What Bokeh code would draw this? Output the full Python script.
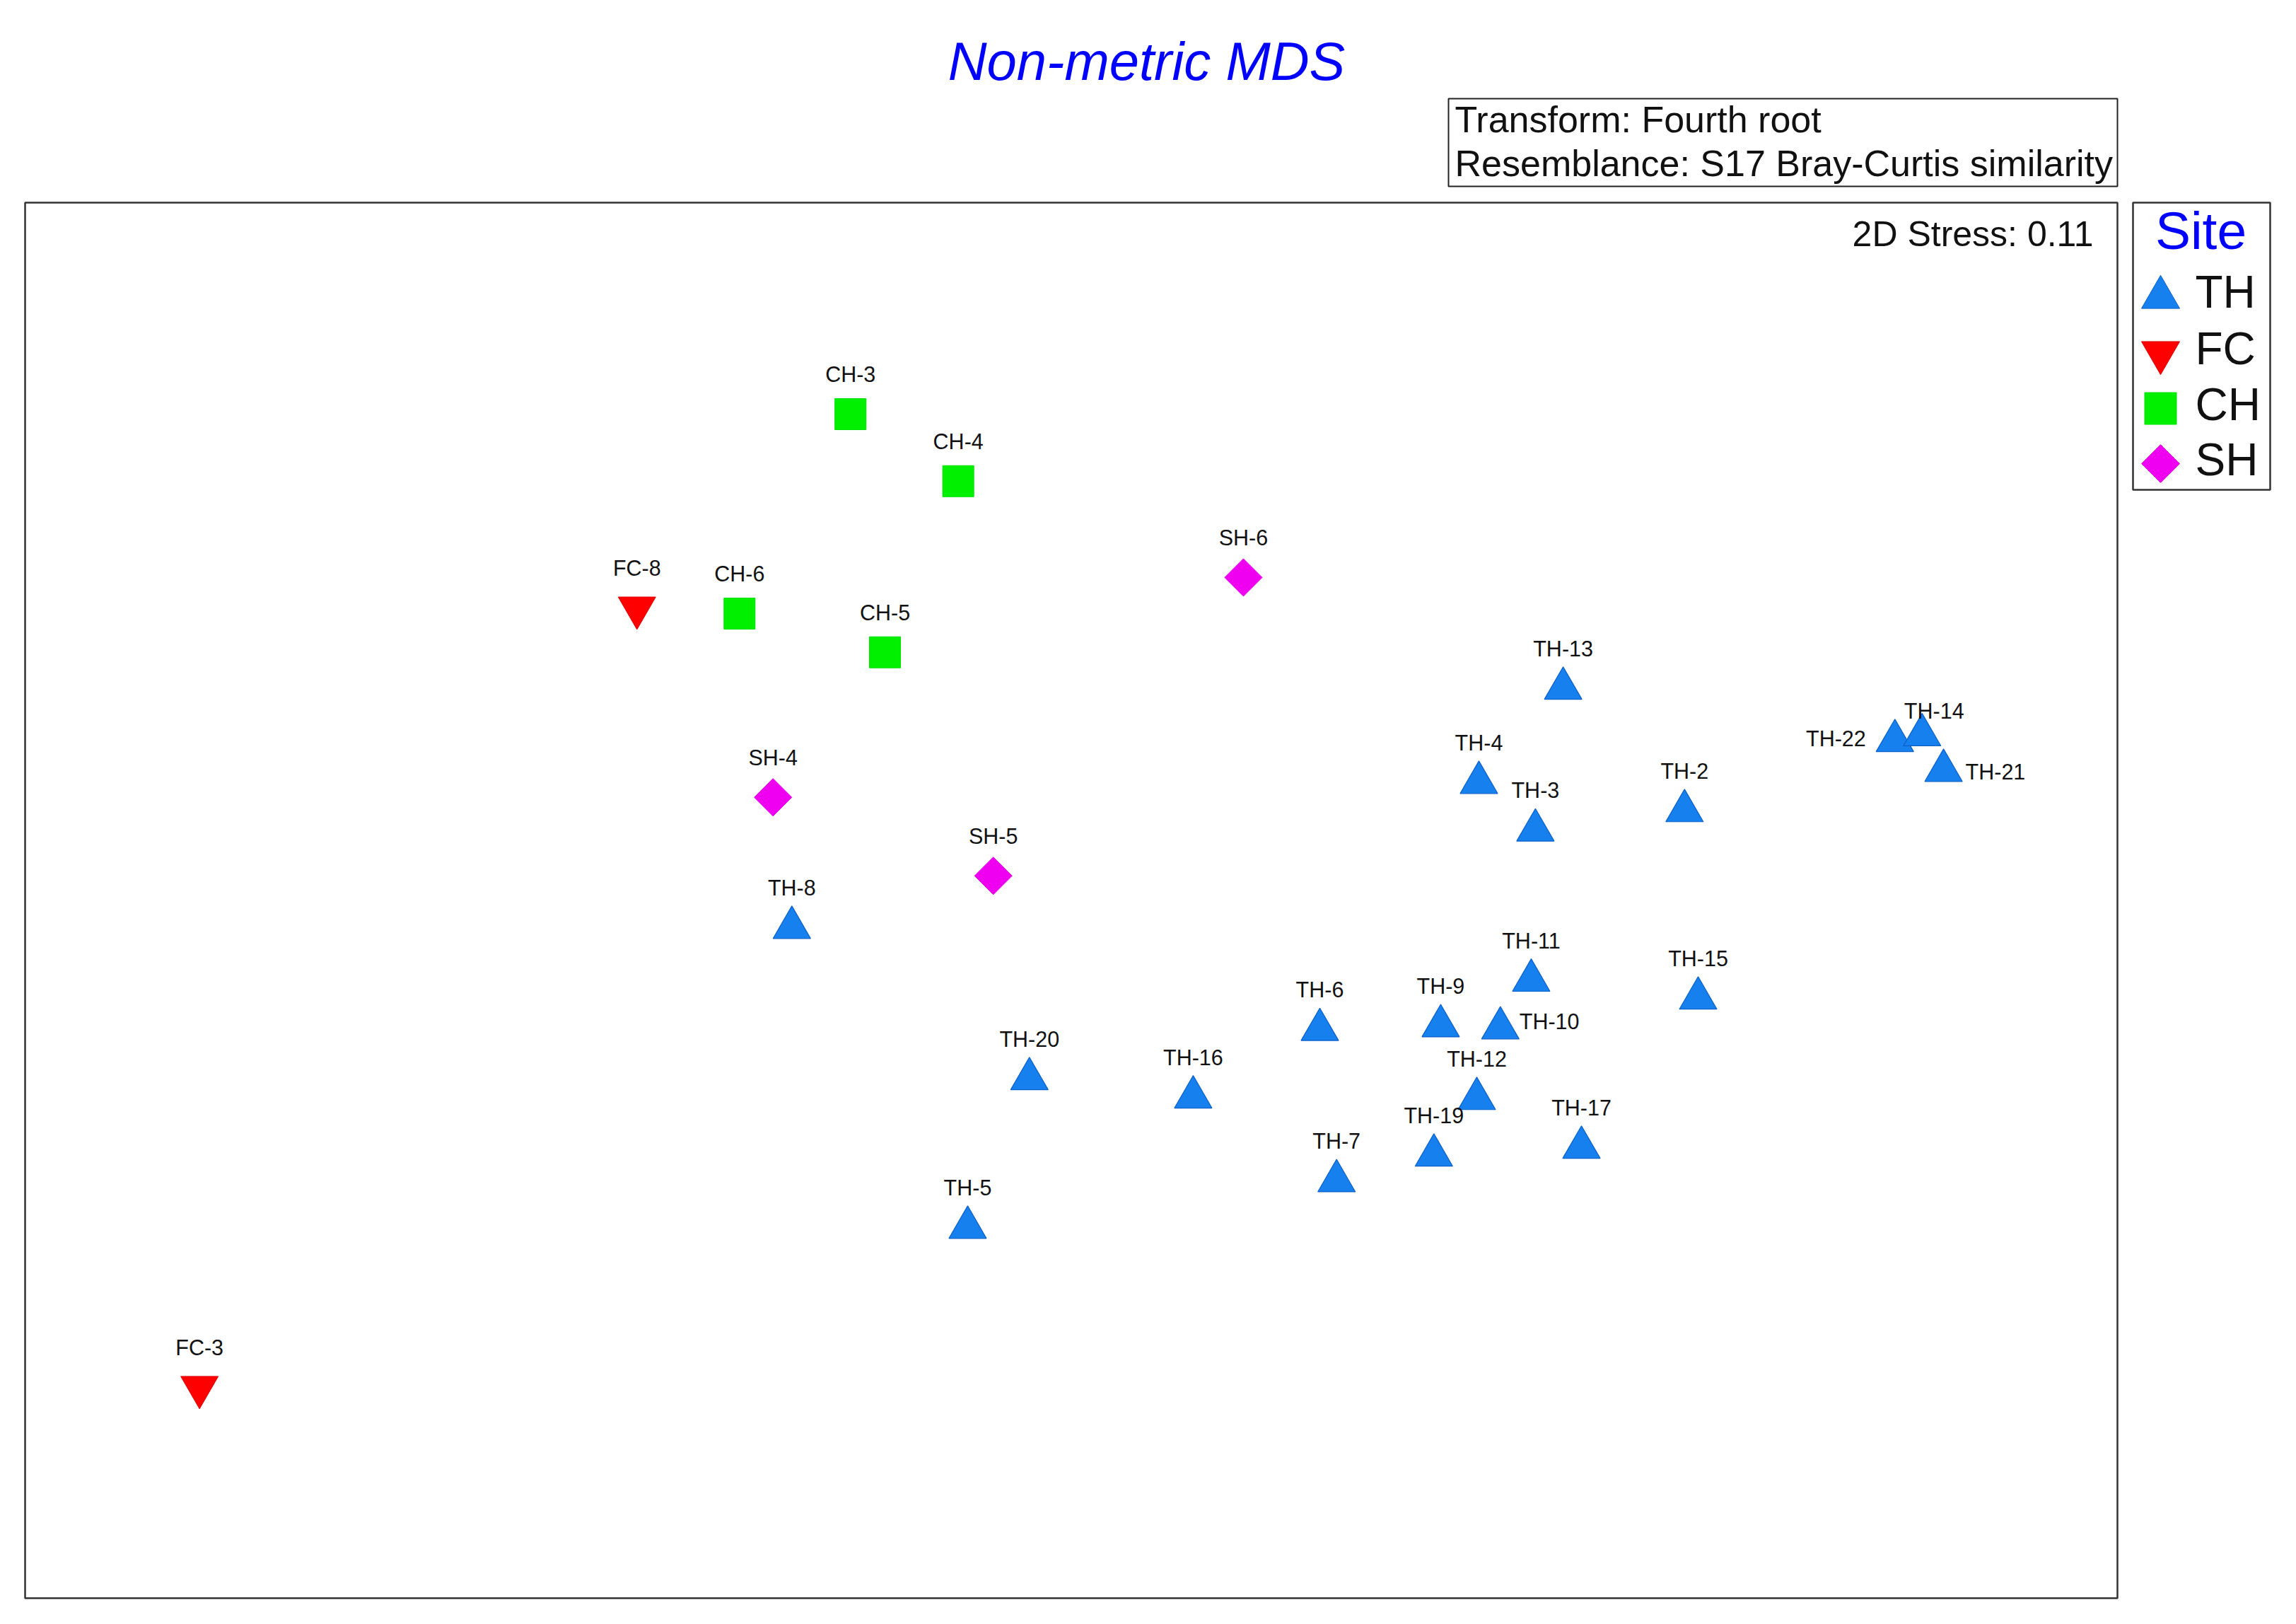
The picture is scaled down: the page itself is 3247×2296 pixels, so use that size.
import math
from bokeh.plotting import figure
from bokeh.models import Range1d, BoxAnnotation, Label
from bokeh.embed import file_html
from bokeh.resources import INLINE
from bokeh.core.properties import value

# ---------------- data (nMDS coordinates) ----------------
th_names = ["TH-2", "TH-3", "TH-4", "TH-5", "TH-6", "TH-7", "TH-8", "TH-9", "TH-10",
            "TH-11", "TH-12", "TH-13", "TH-15", "TH-16", "TH-17", "TH-19", "TH-20",
            "TH-21", "TH-22", "TH-14"]
th_x = [1.172, 0.887, 0.779, -0.198, 0.475, 0.507, -0.534, 0.706, 0.820,
        0.879, 0.775, 0.940, 1.198, 0.233, 0.975, 0.693, -0.080,
        1.667, 1.574, 1.626]
th_y = [0.171, 0.134, 0.225, -0.625, -0.247, -0.536, -0.052, -0.240, -0.244,
        -0.153, -0.379, 0.405, -0.187, -0.376, -0.472, -0.487, -0.341,
        0.248, 0.305, 0.316]

fc_names = ["FC-3", "FC-8"]
fc_x = [-1.666, -0.830]
fc_y = [-0.930, 0.559]

ch_names = ["CH-3", "CH-4", "CH-5", "CH-6"]
ch_x = [-0.422, -0.216, -0.356, -0.634]
ch_y = [0.929, 0.801, 0.474, 0.548]

sh_names = ["SH-4", "SH-5", "SH-6"]
sh_x = [-0.570, -0.149, 0.329]
sh_y = [0.197, 0.047, 0.617]

groups = ["TH", "FC", "CH", "SH"]
title_text = "Non-metric MDS"
info_lines = ["Transform: Fourth root", "Resemblance: S17 Bray-Curtis similarity"]
stress_text = "2D Stress: 0.11"
legend_title = "Site"

# ---------------- layout helpers (page pixels -> data units) ----------------
UNIT = 740.0          # pixels per nMDS unit
CX, CY = 1514.5, 1272.5
W, H = 3240, 2290
PAGE_OFF = 0
BL = 0.35             # baseline correction (fraction of font size)


def X(px):
    return (px - CX) / UNIT


def Y(py):
    return (CY - py) / UNIT


def YB(py, fs):
    # text baseline at page y, corrected for renderer baseline offset
    return Y(py - BL * fs)


FONT = "Liberation Sans"
colors = {"TH": "#1580EE", "FC": "#FF0000", "CH": "#00F000", "SH": "#F000F0"}
edges = {"TH": "#0A5FC8", "FC": "#E00000", "CH": "#00E000", "SH": "#E000E0"}

p = figure(width=W, height=H, title=None, toolbar_location=None, output_backend="svg",
           x_range=Range1d(X(PAGE_OFF), X(PAGE_OFF + W)),
           y_range=Range1d(Y(PAGE_OFF + H), Y(PAGE_OFF)),
           x_axis_location=None, y_axis_location=None, min_border=0)
p.grid.visible = False
p.outline_line_color = None
p.background_fill_color = "white"
p.border_fill_color = "white"

# plot frame box
p.add_layout(BoxAnnotation(left=X(35), right=X(2994), top=Y(286), bottom=Y(2259),
                           fill_color=None, line_color="#333333", line_alpha=1.0,
                           line_width=2.5, level="underlay"))

# markers
TRI, SQ = 53, 44
DIAM = 37.5
p.scatter(fc_x, fc_y, marker="inverted_triangle", size=TRI, fill_color=colors["FC"],
          line_color=edges["FC"], line_width=1)
p.scatter(ch_x, ch_y, marker="square", size=SQ, fill_color=colors["CH"],
          line_color=edges["CH"], line_width=1)
p.scatter(sh_x, sh_y, marker="square", size=DIAM, angle=math.pi / 4,
          fill_color=colors["SH"], line_color=edges["SH"], line_width=1)
p.scatter(th_x, th_y, marker="triangle", size=TRI, fill_color=colors["TH"],
          line_color=edges["TH"], line_width=1.2)

# sample labels
LFS = 30.5
overrides = {"TH-22": (-41, -7, "right"), "TH-14": (17, 23, "center"),
             "TH-21": (31, -12, "left"), "TH-10": (27, -1, "left")}
lab = {"left": dict(x=[], y=[], t=[]), "center": dict(x=[], y=[], t=[]),
       "right": dict(x=[], y=[], t=[])}
for names, xs, ys in [(th_names, th_x, th_y), (fc_names, fc_x, fc_y),
                      (ch_names, ch_x, ch_y), (sh_names, sh_x, sh_y)]:
    for n, xx, yy in zip(names, xs, ys):
        dx, dy, al = overrides.get(n, (0, 46, "center"))
        lab[al]["x"].append(xx + dx / UNIT)
        lab[al]["y"].append(yy + (dy + BL * LFS) / UNIT)
        lab[al]["t"].append(n)
for al, d in lab.items():
    if d["t"]:
        p.text(x=d["x"], y=d["y"], text=d["t"], text_align=al, text_baseline="alphabetic",
               text_font=value(FONT), text_font_size=f"{LFS}px", text_color="#111111")

# title
p.add_layout(Label(x=X(1621), y=YB(113, 76), text=title_text, text_align="center",
                   text_baseline="alphabetic", text_font=FONT, text_font_size="76px",
                   text_font_style="italic", text_color="#0000FF"))

# transform / resemblance box
p.add_layout(BoxAnnotation(left=X(2048), right=X(2994), top=Y(139), bottom=Y(263),
                           fill_color="white", fill_alpha=1.0, line_color="#222222",
                           line_alpha=1.0, line_width=2))
for line, base in zip(info_lines, [187, 249]):
    p.add_layout(Label(x=X(2057), y=YB(base, 52), text=line, text_align="left",
                       text_baseline="alphabetic", text_font=FONT, text_font_size="52px",
                       text_color="#111111"))

# stress
p.add_layout(Label(x=X(2960), y=YB(348, 50), text=stress_text, text_align="right",
                   text_baseline="alphabetic", text_font=FONT, text_font_size="50px",
                   text_color="#111111"))

# legend
p.add_layout(BoxAnnotation(left=X(3016), right=X(3210), top=Y(286), bottom=Y(692),
                           fill_color="white", fill_alpha=1.0, line_color="#333333",
                           line_alpha=1.0, line_width=2.5, level="underlay"))
p.add_layout(Label(x=X(3112), y=YB(352, 75), text=legend_title, text_align="center",
                   text_baseline="alphabetic", text_font=FONT, text_font_size="75px",
                   text_color="#0000FF"))
leg_marker_y = [420, 498, 577, 655]
leg_base_y = [435, 515, 594, 672]
leg_spec = {"TH": ("triangle", 54, 0.0), "FC": ("inverted_triangle", 54, 0.0),
            "CH": ("square", 45, 0.0), "SH": ("square", 38, math.pi / 4)}
for g, my, by in zip(groups, leg_marker_y, leg_base_y):
    mk, sz, ang = leg_spec[g]
    p.scatter([X(3055)], [Y(my)], marker=mk, size=sz, angle=ang,
              fill_color=colors[g], line_color=edges[g], line_width=1)
    p.add_layout(Label(x=X(3104), y=YB(by, 64), text=g, text_align="left",
                       text_baseline="alphabetic", text_font=FONT, text_font_size="64px",
                       text_color="#111111"))

open("out.html", "w").write(file_html(p, INLINE))
